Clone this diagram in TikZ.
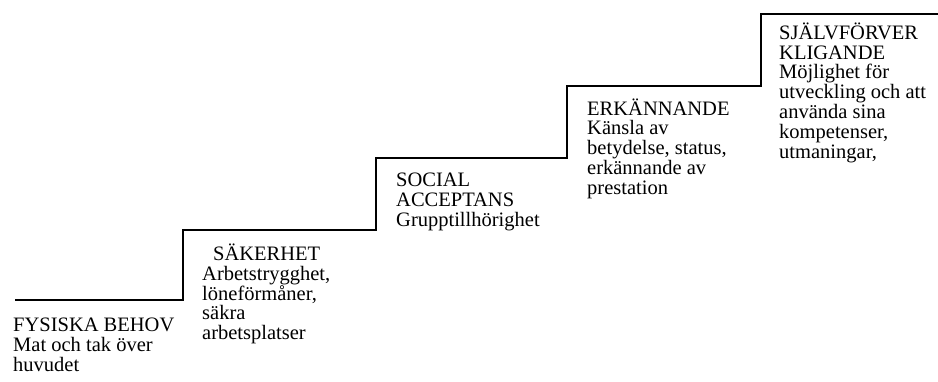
\documentclass[tikz,border=0pt]{standalone}
\usepackage{fontspec}
\setmainfont{Liberation Serif}
\usetikzlibrary{positioning}

\begin{document}
\begin{tikzpicture}[x=1pt, y=-1pt,
    every node/.style={
        inner sep=0pt,
        align=left,
        anchor=base west,
        font=\fontsize{20.5pt}{19.8pt}\selectfont}]

    \useasboundingbox (0,0) rectangle (938,381);

    % the steps
    \coordinate (s0) at (15,300);
    \coordinate (s1) at (183,230);
    \coordinate (s2) at (376,158);
    \coordinate (s3) at (567,86);
    \coordinate (s4) at (761,14);
    \coordinate (end) at (938,14);

    \draw[line width=2pt] (s0) -| (s1) -| (s2) -| (s3) -| (s4) -- (end);

    % the needs (placed by the baseline of the last line)
    \node (fysiska) at (13,371.3) {FYSISKA BEHOV\\Mat och tak över\\huvudet};
    \node (sakerhet) at (202,339.7) {\hspace{11pt}SÄKERHET\\Arbetstrygghet,\\löneförmåner,\\säkra\\arbetsplatser};
    \node (social) at (396,226.3) {SOCIAL\\ACCEPTANS\\Grupptillhörighet};
    \node (erkannande) at (587,194.2) {ERKÄNNANDE\\Känsla av\\betydelse, status,\\erkännande av\\prestation};
    \node (sjalv) at (779,158.1) {SJÄLVFÖRVER\\KLIGANDE\\Möjlighet för\\utveckling och att\\använda sina\\kompetenser,\\utmaningar,};
\end{tikzpicture}
\end{document}
